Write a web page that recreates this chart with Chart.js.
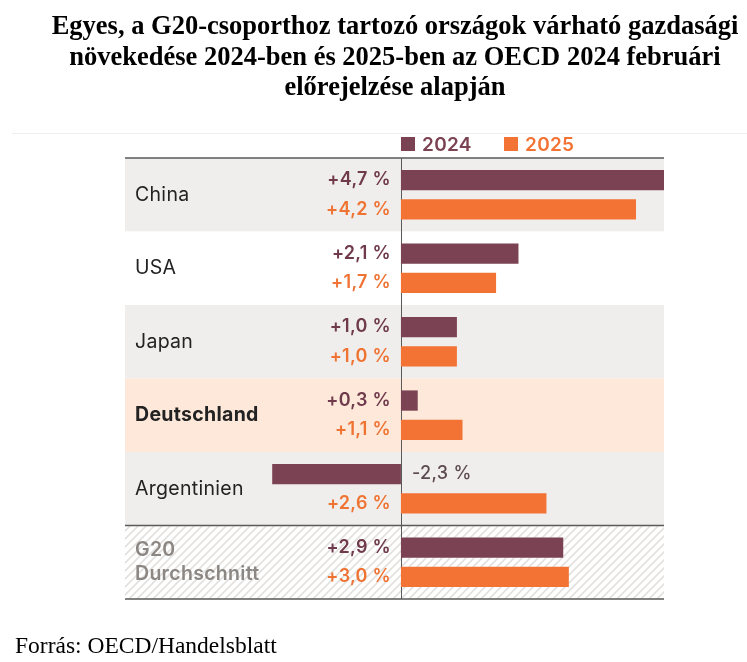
<!DOCTYPE html>
<html>
<head>
<meta charset="utf-8">
<script src="https://cdn.jsdelivr.net/npm/chart.js@4.4.1/dist/chart.umd.min.js"></script>
<style>
  html, body { margin: 0; padding: 0; background: #fff; }
  body { width: 747px; height: 662px; position: relative; overflow: hidden; }
  #title {
    position: absolute; left: 0; top: 10px; width: 790px;
    text-align: center; font-family: "Liberation Serif", "Times New Roman", serif;
    font-weight: bold; font-size: 26.5px; line-height: 30.5px; color: #000;
  }
  #source {
    position: absolute; left: 15px; top: 632px;
    font-family: "Liberation Serif", "Times New Roman", serif; font-size: 23.5px; line-height: 26px; color: #000;
  }
  #wrap { position: absolute; left: 0; top: 0; width: 747px; height: 662px; }
</style>
</head>
<body>
<div id="wrap"><canvas id="chart"></canvas></div>
<div id="title">Egyes, a G20-csoporthoz tartozó országok várható gazdasági<br>növekedése 2024-ben és 2025-ben az OECD 2024 februári<br>előrejelzése alapján</div>
<div id="source">Forrás: OECD/Handelsblatt</div>
<script>
// Adatok
const countries = ['China', 'USA', 'Japan', 'Deutschland', 'Argentinien', 'G20 Durchschnitt'];
const growth2024 = [4.7, 2.1, 1.0, 0.3, -2.3, 2.9];
const growth2025 = [4.2, 1.7, 1.0, 1.1, 2.6, 3.0];
const seriesNames = ['2024', '2025'];

const col2024 = '#7b4253';
const col2025 = '#f37335';
const rowFills = ['#f0eeec', '#ffffff', '#f0eeec', '#fde8da', '#f0eeec', 'hatch'];
const sansFont = 'Inter, "Liberation Sans", sans-serif';

function fmt(v) {
    return (v >= 0 ? '+' : '-') + Math.abs(v).toFixed(1).replace('.', ',') + ' %';
}

// Schraffur für die G20-Zeile
function makeHatch(ctx) {
    const c = document.createElement('canvas');
    c.width = 8; c.height = 8;
    const p = c.getContext('2d');
    p.fillStyle = '#ffffff';
    p.fillRect(0, 0, 8, 8);
    p.strokeStyle = '#e2e0de';
    p.lineWidth = 1.6;
    p.beginPath();
    p.moveTo(0, 8); p.lineTo(8, 0);
    p.moveTo(-2, 2); p.lineTo(2, -2);
    p.moveTo(6, 10); p.lineTo(10, 6);
    p.stroke();
    return ctx.createPattern(c, 'repeat');
}

const tablePlugin = {
    id: 'tablePlugin',
    beforeDatasetsDraw(chart) {
        const { ctx, chartArea: a, scales: { x, y } } = chart;
        const rowH = (a.bottom - a.top) / countries.length;
        ctx.save();
        countries.forEach((c, i) => {
            const cy = y.getPixelForValue(i);
            ctx.fillStyle = rowFills[i] === 'hatch' ? makeHatch(ctx) : rowFills[i];
            ctx.fillRect(a.left, cy - rowH / 2, a.right - a.left, rowH);
        });
        // Rahmenlinien
        ctx.strokeStyle = '#5a5a5a';
        ctx.lineWidth = 1.5;
        ctx.beginPath();
        ctx.moveTo(a.left, a.top); ctx.lineTo(a.right, a.top);
        const sep = y.getPixelForValue(countries.length - 1) - rowH / 2;
        ctx.moveTo(a.left, sep); ctx.lineTo(a.right, sep);
        ctx.moveTo(a.left, a.bottom); ctx.lineTo(a.right, a.bottom);
        ctx.stroke();
        ctx.lineWidth = 1;
        ctx.beginPath();
        const zx = Math.round(x.getPixelForValue(0)) + 0.5;
        ctx.moveTo(zx, a.top); ctx.lineTo(zx, a.bottom);
        ctx.stroke();
        // feine Linie über der Legende
        ctx.strokeStyle = '#eeeeee';
        ctx.beginPath();
        ctx.moveTo(12, 133.5); ctx.lineTo(747, 133.5);
        ctx.stroke();
        ctx.restore();
    },
    afterDatasetsDraw(chart) {
        const { ctx, chartArea: a, scales: { x, y } } = chart;
        const zx = x.getPixelForValue(0);
        ctx.save();
        ctx.textBaseline = 'middle';
        ctx.letterSpacing = '0.3px';

        // Legende
        ctx.font = '600 19px ' + sansFont;
        ctx.textAlign = 'left';
        [[col2024, 401, seriesNames[0]], [col2025, 504, seriesNames[1]]].forEach(([c, lx, t]) => {
            ctx.fillStyle = c;
            ctx.fillRect(lx, 137, 14, 14);
            ctx.fillText(t, lx + 21, 145);
        });

        // Werte
        const metas = [chart.getDatasetMeta(0), chart.getDatasetMeta(1)];
        const colors = ['#6f3a4b', '#ef7434'];
        ctx.font = '600 18px ' + sansFont;
        metas.forEach((meta, d) => {
            meta.data.forEach((bar, i) => {
                const v = chart.data.datasets[d].data[i];
                if (v < 0) {
                    ctx.textAlign = 'left';
                    ctx.fillStyle = '#5c4a52';
                    ctx.font = '500 18px ' + sansFont;
                    ctx.fillText(fmt(v), zx + 11, bar.y);
                    ctx.font = '600 18px ' + sansFont;
                } else {
                    ctx.textAlign = 'right';
                    ctx.fillStyle = colors[d];
                    ctx.fillText(fmt(v), zx - 10, bar.y);
                }
            });
        });

        // Ländernamen
        ctx.textAlign = 'left';
        countries.forEach((c, i) => {
            const cy = y.getPixelForValue(i);
            if (i === countries.length - 1) {
                ctx.font = '600 19.5px ' + sansFont;
                ctx.fillStyle = '#8c8783';
                const parts = c.split(' ');
                ctx.fillText(parts[0], a.left + 10, cy - 12);
                ctx.fillText(parts[1], a.left + 10, cy + 12);
            } else {
                ctx.font = (c === 'Deutschland' ? '700 ' : '400 ') + '19.5px ' + sansFont;
                ctx.fillStyle = '#222222';
                ctx.fillText(c, a.left + 10, cy);
            }
        });
        ctx.restore();
    }
};

const ctx = document.getElementById('chart').getContext('2d');
new Chart(ctx, {
    type: 'bar',
    data: {
        labels: countries,
        datasets: [
            { label: seriesNames[0], data: growth2024, backgroundColor: col2024 },
            { label: seriesNames[1], data: growth2025, backgroundColor: col2025 }
        ]
    },
    options: {
        indexAxis: 'y',
        responsive: true,
        maintainAspectRatio: false,
        animation: false,
        categoryPercentage: 0.8,
        barPercentage: 0.69,
        layout: { padding: { left: 125, right: 83, top: 158, bottom: 63 } },
        scales: {
            x: { display: false, min: -4.93, max: 4.7 },
            y: { display: false }
        },
        plugins: {
            legend: { display: false },
            tooltip: { enabled: false }
        }
    },
    plugins: [tablePlugin]
});
</script>
</body>
</html>
